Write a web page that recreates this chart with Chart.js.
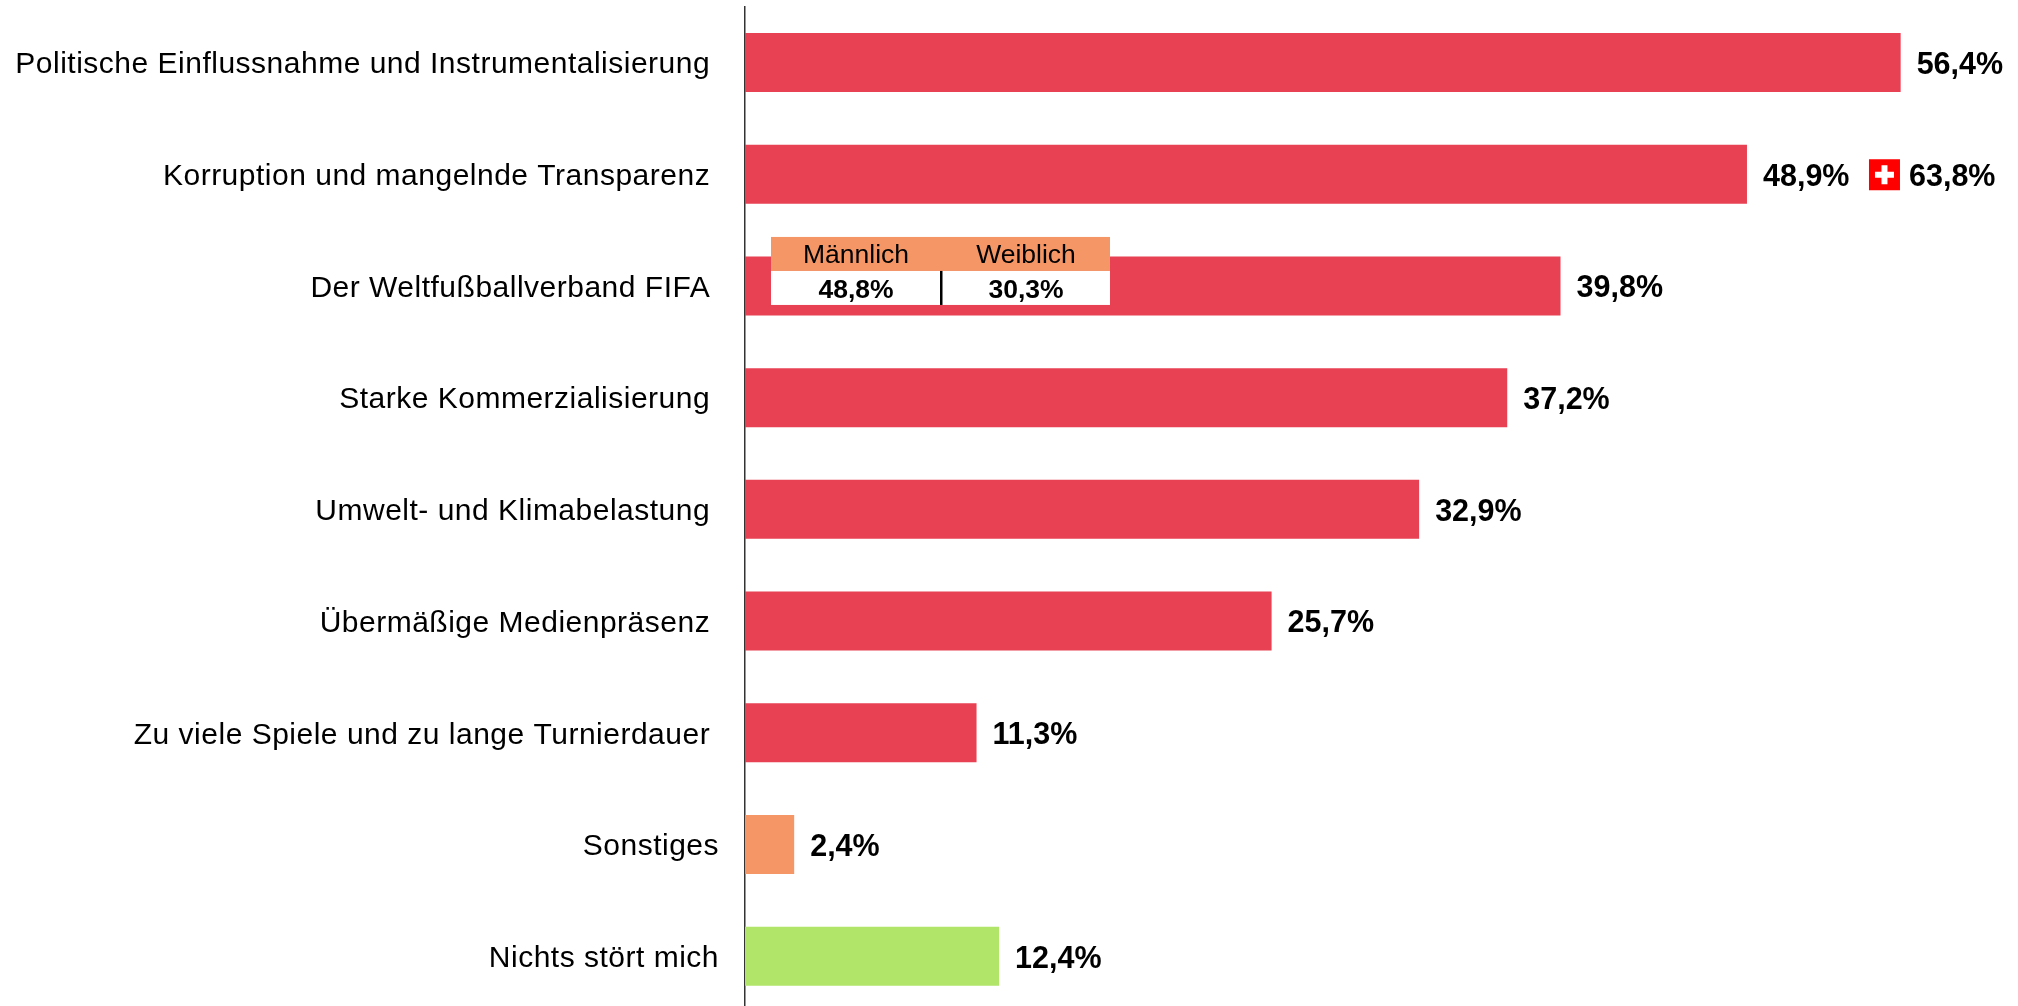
<!DOCTYPE html>
<html lang="de">
<head>
<meta charset="utf-8">
<style>
html,body{margin:0;padding:0;background:#fff;overflow:hidden;width:2018px;height:1006px}
#wrap{position:relative;width:2018px;height:1006px;overflow:hidden}
canvas{display:block}
</style>
<script src="https://cdn.jsdelivr.net/npm/chart.js@4"></script>
</head>
<body>
<div id="wrap"><canvas id="c" width="2018" height="1020" style="width:2018px;height:1020px"></canvas></div>
<script>
const categories = [
  "Politische Einflussnahme und Instrumentalisierung",
  "Korruption und mangelnde Transparenz",
  "Der Weltfußballverband FIFA",
  "Starke Kommerzialisierung",
  "Umwelt- und Klimabelastung",
  "Übermäßige Medienpräsenz",
  "Zu viele Spiele und zu lange Turnierdauer",
  "Sonstiges",
  "Nichts stört mich"
];
const values = [56.4, 48.9, 39.8, 37.2, 32.9, 25.7, 11.3, 2.4, 12.4];
const barColors = ["#E84153","#E84153","#E84153","#E84153","#E84153","#E84153","#E84153","#F59666","#B1E569"];
const swissValue = 63.8;
const genderLabels = ["Männlich", "Weiblich"];
const genderValues = [48.8, 30.3];
const FONT = '"Liberation Sans", Arial, sans-serif';
const fmt = v => v.toFixed(1).replace('.', ',') + '%';

const overlay = {
  id: 'overlay',
  beforeDraw(chart) {
    const s = chart.scales.y;
    if (!s._shifted) {
      s.getLabelItems().forEach(it => { it.options.translation[1] += 2.5; });
      s._shifted = true;
    }
    chart.ctx.letterSpacing = '0.5px';
  },
  beforeDatasetsDraw(chart) {
    chart.ctx.letterSpacing = '0px';
  },
  afterDatasetsDraw(chart) {
    const {ctx, scales: {x, y}} = chart;
    ctx.save();
    ctx.textBaseline = 'middle';
    ctx.fillStyle = '#000';
    ctx.font = 'bold 30.5px ' + FONT;
    ctx.textAlign = 'left';
    values.forEach((v, i) => ctx.fillText(fmt(v), x.getPixelForValue(v) + 16, y.getPixelForValue(i) + 3));

    // Swiss comparison
    const y1 = y.getPixelForValue(1);
    const fx = x.getPixelForValue(values[1]) + 122, fs = 31, fy = y1 - 15;
    ctx.fillStyle = '#FF0000';
    ctx.fillRect(fx, fy, fs, fs);
    ctx.fillStyle = '#FFFFFF';
    ctx.fillRect(fx + 6, fy + 12.5, 19, 6);
    ctx.fillRect(fx + 12.5, fy + 6, 6, 19);
    ctx.fillStyle = '#000';
    ctx.fillText(fmt(swissValue), fx + fs + 9, y1 + 3);

    // Gender table on bar 3
    const y2 = y.getPixelForValue(2);
    const tx = x.left + 26, tw = 339, hh = 34, top = y2 - 49;
    ctx.fillStyle = '#F59666';
    ctx.fillRect(tx, top, tw, hh);
    ctx.fillStyle = '#FFFFFF';
    ctx.fillRect(tx, top + hh, tw, hh);
    ctx.fillStyle = '#000';
    ctx.fillRect(tx + 169, top + hh, 2.5, hh);
    ctx.textAlign = 'center';
    [85, 255].forEach((dx, i) => {
      ctx.font = '26.5px ' + FONT;
      ctx.fillText(genderLabels[i], tx + dx, top + 19);
      ctx.font = 'bold 26.5px ' + FONT;
      ctx.fillText(fmt(genderValues[i]), tx + dx, top + hh + 19.5);
    });
    ctx.restore();
  }
};

new Chart(document.getElementById('c'), {
  type: 'bar',
  data: {
    labels: categories,
    datasets: [{ data: values, backgroundColor: barColors, borderWidth: 0,
      barPercentage: 0.528, categoryPercentage: 1 }]
  },
  options: {
    indexAxis: 'y',
    responsive: false,
    animation: false,
    layout: { padding: { top: 6.7, bottom: 8, left: 0, right: 2.6 } },
    plugins: { legend: { display: false }, tooltip: { enabled: false }, title: { display: false } },
    scales: {
      x: { display: false, min: 0, max: 62 },
      y: {
        afterFit(s) { s.width = 745; s.paddingTop = 0; s.paddingBottom = 0; },
        grid: { display: false, drawTicks: false },
        border: { display: true, color: '#333333', width: 1.5 },
        ticks: {
          padding: 26, color: '#000', autoSkip: false,
          font: { family: FONT, size: 30 },
          callback: (v, i) => categories[i] + (i < 7 ? ' ' : '')
        }
      }
    }
  },
  plugins: [overlay]
});
</script>
</body>
</html>
